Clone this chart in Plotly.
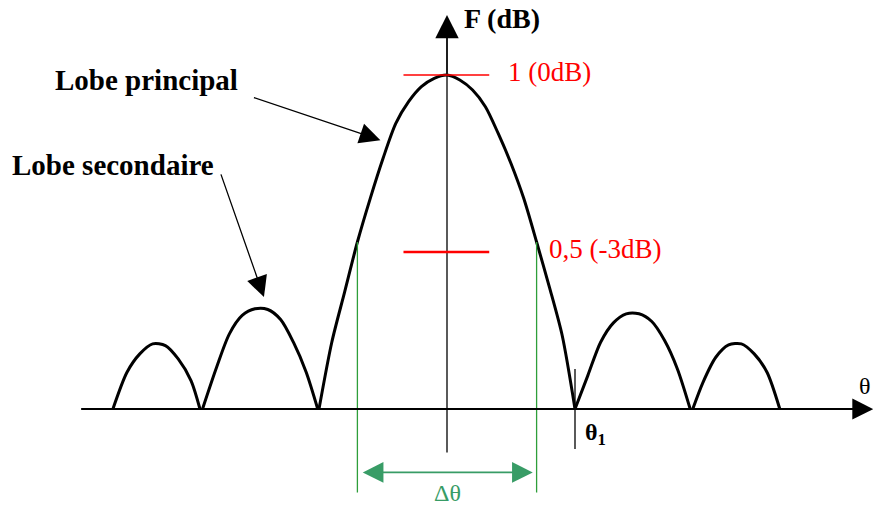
import plotly.graph_objects as go

# ---------------- data (theta in units of theta1, F linear) ----------------
main_theta = [-1.0, -0.9, -0.8, -0.7, -0.6, -0.5, -0.4, -0.3, -0.2, -0.1, 0.0,
              0.1, 0.2, 0.3, 0.4, 0.5, 0.6, 0.7, 0.8, 0.9, 1.0]
main_F = [0.0, 0.20, 0.35, 0.50, 0.63, 0.75, 0.855, 0.92, 0.965, 0.99, 1.0,
          0.985, 0.955, 0.905, 0.825, 0.735, 0.63, 0.50, 0.365, 0.22, 0.0]

left_outer_theta = [-2.61, -2.5, -2.4, -2.3, -2.2, -2.1, -2.0, -1.93]
left_outer_F = [0.0, 0.11, 0.165, 0.195, 0.19, 0.15, 0.085, 0.0]

left_inner_theta = [-1.91, -1.8, -1.7, -1.6, -1.5, -1.4, -1.3, -1.2, -1.1, -1.01]
left_inner_F = [0.0, 0.125, 0.225, 0.28, 0.30, 0.298, 0.268, 0.20, 0.11, 0.0]

right_inner_theta = [1.0, 1.1, 1.2, 1.3, 1.4, 1.5, 1.6, 1.7, 1.8, 1.9]
right_inner_F = [0.0, 0.10, 0.20, 0.258, 0.285, 0.285, 0.262, 0.205, 0.12, 0.0]

right_outer_theta = [1.92, 2.0, 2.1, 2.2, 2.3, 2.4, 2.5, 2.6]
right_outer_F = [0.0, 0.08, 0.155, 0.192, 0.195, 0.165, 0.11, 0.0]

peak_level = 1.0            # "1 (0dB)"
half_level = 0.47           # "0,5 (-3dB)" marker as drawn
half_theta = [-0.70, 0.70]  # half-power beamwidth edges
half_F_on_curve = 0.50
theta1 = 1.0

# ---------------- figure ----------------
X_RANGE = [-3.4922, 3.3281]
Y_RANGE = [-0.2904, 1.2246]

lobes_x, lobes_y = [], []
for tx, fy in [(left_outer_theta, left_outer_F), (left_inner_theta, left_inner_F),
               (main_theta, main_F), (right_inner_theta, right_inner_F),
               (right_outer_theta, right_outer_F)]:
    lobes_x += tx + [None]
    lobes_y += fy + [None]

fig = go.Figure()

shapes = []
# y axis (thin)
shapes.append(dict(type="line", x0=0, x1=0, y0=-0.13, y1=1.12,
                   line=dict(color="black", width=1.3)))
# theta1 tick
shapes.append(dict(type="line", x0=theta1, x1=theta1, y0=-0.12, y1=0.12,
                   line=dict(color="black", width=1.3)))
# red level markers
shapes.append(dict(type="line", x0=-0.34, x1=0.33, y0=peak_level, y1=peak_level,
                   line=dict(color="#ff0000", width=1.5)))
shapes.append(dict(type="line", x0=-0.34, x1=0.33, y0=half_level, y1=half_level,
                   line=dict(color="#ff0000", width=2.5)))
# green beamwidth lines
for t in half_theta:
    shapes.append(dict(type="line", x0=t, x1=t, y0=half_F_on_curve, y1=-0.25,
                       line=dict(color="#2e9e3a", width=1.3)))

fig.add_trace(go.Scatter(x=lobes_x, y=lobes_y, mode="lines",
                         line=dict(color="black", width=3, shape="spline", smoothing=0.8),
                         connectgaps=False, hoverinfo="skip", showlegend=False))

annotations = []
# x axis with arrow
annotations.append(dict(x=3.33, y=0, ax=-2.87, ay=0, xref="x", yref="y", axref="x", ayref="y",
                        text="", showarrow=True, arrowhead=2, arrowsize=1.9, arrowwidth=2.2,
                        arrowcolor="black", standoff=0))
# y axis arrow
annotations.append(dict(x=0, y=1.18, ax=0, ay=1.0, xref="x", yref="y", axref="x", ayref="y",
                        text="", showarrow=True, arrowhead=2, arrowsize=3.6, arrowwidth=1.3,
                        arrowcolor="black", standoff=0))
# delta theta double arrow
annotations.append(dict(x=0.67, y=-0.19, ax=-0.67, ay=-0.19, xref="x", yref="y", axref="x", ayref="y",
                        text="", showarrow=True, arrowhead=2, arrowside="end+start",
                        arrowsize=2.3, arrowwidth=1.8, arrowcolor="#389c66", standoff=0, startstandoff=0,
                        startarrowhead=2, startarrowsize=2.3))
# label arrows
annotations.append(dict(x=-0.52, y=0.805, ax=-1.52, ay=0.934, xref="x", yref="y", axref="x", ayref="y",
                        text="", showarrow=True, arrowhead=2, arrowsize=3.2, arrowwidth=1.3,
                        arrowcolor="black", standoff=0))
annotations.append(dict(x=-1.43, y=0.335, ax=-1.77, ay=0.707, xref="x", yref="y", axref="x", ayref="y",
                        text="", showarrow=True, arrowhead=2, arrowsize=3.2, arrowwidth=1.3,
                        arrowcolor="black", standoff=0))

serif = "Liberation Serif"
def label(text, x, y, size, color="black", bold=False, xanchor="left", yanchor="middle"):
    t = f"<b>{text}</b>" if bold else text
    annotations.append(dict(x=x, y=y, xref="x", yref="y", text=t, showarrow=False,
                            xanchor=xanchor, yanchor=yanchor,
                            font=dict(family=serif, size=size, color=color)))

label("Lobe principal", -2.35, 0.985, 29, bold=True, xanchor="center")
label("Lobe secondaire", -2.61, 0.73, 29, bold=True, xanchor="center")
label("F (dB)", 0.12, 1.17, 28, bold=True)
label("1 (0dB)", 0.46, 1.01, 27, color="#ff0000")
label("0,5 (-3dB)", 0.78, 0.48, 27, color="#ff0000")
label("Δθ", 0.0, -0.25, 24, color="#389c66", xanchor="center")
label("θ<sub>1</sub>", 1.06, -0.075, 24, bold=True)
label("θ", 3.325, 0.07, 24, xanchor="right")

fig.update_layout(
    width=873, height=506,
    margin=dict(l=0, r=0, t=0, b=0),
    paper_bgcolor="white", plot_bgcolor="white",
    xaxis=dict(range=X_RANGE, visible=False, fixedrange=True),
    yaxis=dict(range=Y_RANGE, visible=False, fixedrange=True),
    shapes=shapes, annotations=annotations,
    showlegend=False,
)

fig.write_html("out.html", config={"displayModeBar": False},
               post_script="document.body.style.margin='0px';")
